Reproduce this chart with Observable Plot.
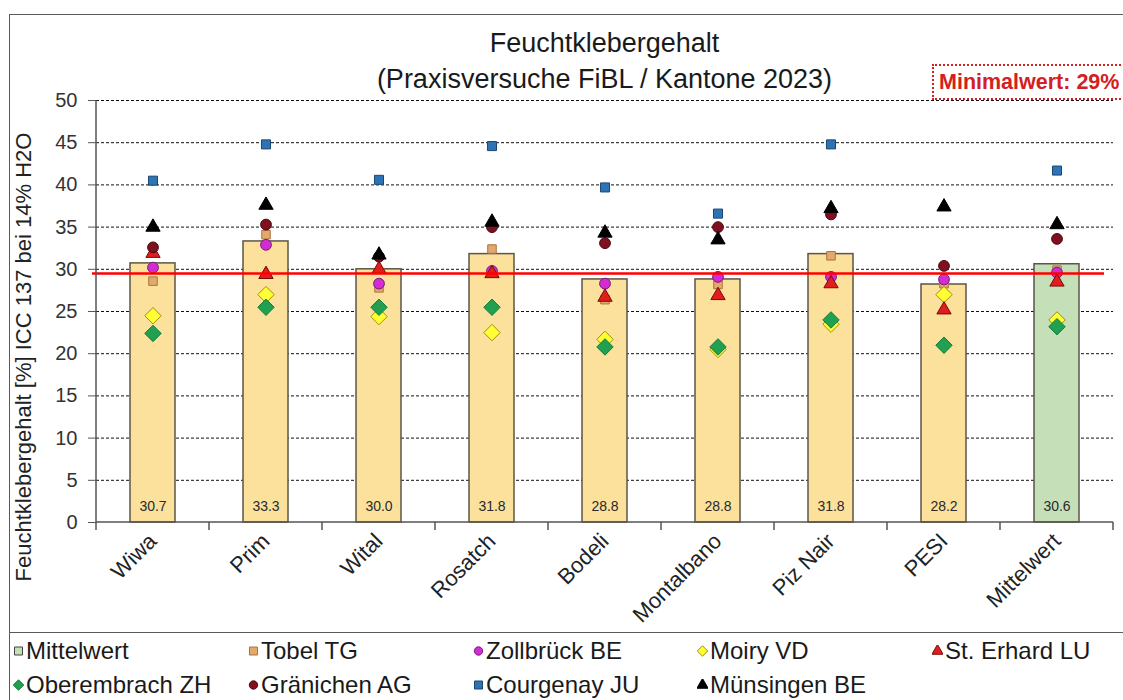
<!DOCTYPE html>
<html>
<head>
<meta charset="utf-8">
<script src="https://cdn.jsdelivr.net/npm/d3@7"></script>
<script src="https://cdn.jsdelivr.net/npm/@observablehq/plot@0.6"></script>
<style>
  body { margin: 0; background: #fff; font-family: "Liberation Sans", Arial, sans-serif; }
  #wrap { position: relative; width: 1123px; height: 700px; overflow: hidden; background: #fff; }
  #chart { position: absolute; left: 0; top: 0; }
  .frame-top { position: absolute; left: 9px; top: 14px; width: 1120px; height: 0; border-top: 1.5px solid #5a5a5a; }
  .frame-left { position: absolute; left: 9px; top: 14px; width: 0; height: 700px; border-left: 1.5px solid #5a5a5a; }
  .frame-sep { position: absolute; left: 9px; top: 632px; width: 1120px; height: 0; border-top: 1.5px solid #5a5a5a; }
  #title { position: absolute; left: 96px; width: 1017px; top: 26px; text-align: center; font-size: 27px; line-height: 35.5px; color: #1a1a1a; }
  #ytitle { position: absolute; left: -226px; top: 344px; width: 500px; height: 26px; line-height: 26px; text-align: center;
            transform: rotate(-90deg); transform-origin: 250px 13px; font-size: 22px; color: #222; white-space: nowrap; }
  #minbox { position: absolute; left: 932px; top: 64px; width: 200px; height: 32px; border: 2.5px dotted #d42020; background: #fff;
            color: #d42020; font-weight: bold; font-size: 21.5px; line-height: 33px; padding-left: 5px; white-space: nowrap; }
  #legend { position: absolute; left: 0; top: 633px; width: 1123px; height: 67px; }
  .item { position: absolute; display: flex; align-items: center; font-size: 24px; color: #1a1a1a; white-space: nowrap; }
  .item svg { margin-right: 2px; }
</style>
</head>
<body>
<div id="wrap">
  <div id="chart"></div>
  <div class="frame-top"></div>
  <div class="frame-left"></div>
  <div class="frame-sep"></div>
  <div id="title"></div>
  <div id="ytitle"></div>
  <div id="minbox"></div>
  <div id="legend"></div>
</div>
<script>
// ---------- data ----------
const titleLines = ["Feuchtklebergehalt", "(Praxisversuche FiBL / Kantone 2023)"];
const yAxisTitle = "Feuchtklebergehalt [%] ICC 137 bei 14% H2O";
const minLabel = "Minimalwert: 29%";
const minValue = 29.5;

const categories = ["Wiwa", "Prim", "Wital", "Rosatch", "Bodeli", "Montalbano", "Piz Nair", "PESI", "Mittelwert"];
const meanValues = [30.7, 33.3, 30.0, 31.8, 28.8, 28.8, 31.8, 28.2, 30.6];

const seriesNames = ["Tobel TG", "Zollbrück BE", "Moiry VD", "St. Erhard LU", "Oberembrach ZH", "Gränichen AG", "Courgenay JU", "Münsingen BE"];
const tobel       = [28.6, 34.1, 27.8, 32.4, 26.4, 28.2, 31.6, 28.3, 29.9];
const zollbrueck  = [30.2, 32.9, 28.3, 29.8, 28.3, 29.1, 29.1, 28.8, 29.6];
const moiry       = [24.5, 27.0, 24.4, 22.5, 21.7, 20.5, 23.5, 27.0, 24.0];
const stErhard    = [31.9, 29.4, 30.0, 29.5, 26.7, 26.9, 28.3, 25.2, 28.5];
const oberembrach = [22.4, 25.5, 25.5, 25.5, 20.8, 20.8, 24.0, 21.0, 23.2];
const graenichen  = [32.6, 35.3, 31.5, 35.0, 33.1, 35.0, 36.5, 30.4, 33.6];
const courgenay   = [40.5, 44.8, 40.6, 44.6, 39.7, 36.6, 44.8, null, 41.7];
const muensingen  = [35.0, 37.6, 31.7, 35.6, 34.3, 33.5, 37.2, 37.4, 35.3];
const seriesValues = [tobel, zollbrueck, moiry, stErhard, oberembrach, graenichen, courgenay, muensingen];

const yTicks = [0, 5, 10, 15, 20, 25, 30, 35, 40, 45, 50];

// ---------- styles ----------
const barFill = "#fbe19c", meanFill = "#c5dfb8", barStroke = "#5c5647";
const seriesStyle = [
  {symbol: "square",   fill: "#e3a86c", stroke: "#a8743f", r: 4.8},
  {symbol: "circle",   fill: "#d22cd2", stroke: "#7a1a7a", r: 5.4},
  {symbol: "diamond2", fill: "#ffff33", stroke: "#9a8f10", r: 7.4},
  {symbol: "triangle", fill: "#e01e1e", stroke: "#7a0a0a", r: 5.3},
  {symbol: "diamond2", fill: "#20a050", stroke: "#177a3a", r: 7.4},
  {symbol: "circle",   fill: "#7e1020", stroke: "#4a0810", r: 5.4},
  {symbol: "square",   fill: "#2e74b5", stroke: "#1a4670", r: 5.1},
  {symbol: "triangle", fill: "#000000", stroke: "#000000", r: 5.3}
];
const font = '"Liberation Sans", Arial, sans-serif';

// ---------- tables ----------
const bars = categories.map((c, i) => ({category: c, value: meanValues[i], isMean: c === "Mittelwert"}));
const seriesData = seriesNames.map((name, s) =>
  categories.map((c, i) => ({category: c, value: seriesValues[s][i], series: name})).filter(d => d.value != null)
);

// ---------- titles ----------
document.getElementById("title").innerHTML = titleLines.map(t => `<div>${t}</div>`).join("");
document.getElementById("ytitle").textContent = yAxisTitle;
document.getElementById("minbox").textContent = minLabel;

// ---------- plot ----------
const dots = seriesData.map((data, s) => Plot.dot(data, {
  x: "category", y: "value",
  symbol: () => seriesStyle[s].symbol,
  r: seriesStyle[s].r,
  fill: seriesStyle[s].fill, stroke: seriesStyle[s].stroke, strokeWidth: 1,
  title: d => `${d.series}: ${d.value}`
}));

const plot = Plot.plot({
  width: 1123, height: 632,
  marginLeft: 96, marginRight: 10, marginTop: 100, marginBottom: 110,
  style: {fontFamily: font, background: "transparent", color: "#333"},
  x: {domain: categories, paddingInner: 0.6, paddingOuter: 0.3, label: null},
  y: {domain: [0, 50], label: null},
  symbol: {type: "identity"},
  marks: [
    Plot.ruleY(yTicks.filter(d => d > 0), {stroke: "#111", strokeWidth: 1, strokeDasharray: "3,2"}),
    Plot.barY(bars.filter(d => !d.isMean), {x: "category", y: "value", fill: barFill, stroke: barStroke, strokeWidth: 1.5}),
    Plot.barY(bars.filter(d => d.isMean), {x: "category", y: "value", fill: meanFill, stroke: barStroke, strokeWidth: 1.5}),
    Plot.text(bars, {x: "category", y: 0, text: d => d.value.toFixed(1), dy: -16, fontSize: 14, fill: "#2a2a2a"}),
    ...dots,
    Plot.ruleY([minValue], {stroke: "#ff0000", strokeWidth: 2.5, insetLeft: -4, insetRight: 9}),
    Plot.axisY({ticks: yTicks, tickSize: 8, tickPadding: 11, fontSize: 20, stroke: "#555", fill: "#333", label: null}),
    Plot.axisX({tickSize: 0, tickRotate: -45, tickPadding: 15, fontSize: 22, fill: "#222", label: null})
  ]
});
document.getElementById("chart").appendChild(plot);

// axis lines and category-boundary ticks using the plot's own scales
const xs = plot.scale("x"), ys = plot.scale("y");
const svg = d3.select(plot);
const y0 = ys.apply(0), y50 = ys.apply(50);
const gap = (xs.step - xs.bandwidth) / 2;
const bounds = categories.map(c => xs.apply(c) - gap).concat([xs.apply(categories[categories.length - 1]) + xs.bandwidth + gap]);
const g = svg.append("g").attr("stroke", "#555").attr("stroke-width", 1.5);
g.append("line").attr("x1", bounds[0]).attr("x2", bounds[0]).attr("y1", y50).attr("y2", y0);
g.append("line").attr("x1", bounds[0]).attr("x2", bounds[bounds.length - 1]).attr("y1", y0).attr("y2", y0);
bounds.forEach(b => g.append("line").attr("x1", b).attr("x2", b).attr("y1", y0).attr("y2", y0 + 8));

// ---------- legend ----------
const legendItems = [
  {name: "Mittelwert", symbol: "square", fill: meanFill, stroke: "#444"},
  ...seriesNames.map((n, s) => ({name: n, ...seriesStyle[s]}))
];
const colX = [13, 248, 473, 697, 932];
const rowY = [18, 52];
const symMap = {square: d3.symbolSquare, circle: d3.symbolCircle, diamond2: d3.symbolDiamond2, triangle: d3.symbolTriangle};
const symSize = {square: 64, circle: 55, diamond2: 70, triangle: 55};
const legend = d3.select("#legend");
legendItems.forEach((it, i) => {
  const col = i % 5, row = Math.floor(i / 5);
  const div = legend.append("div").attr("class", "item")
    .style("left", colX[col] + "px").style("top", (rowY[row] - 14) + "px").style("height", "28px");
  const s = div.append("svg").attr("width", 11).attr("height", 12);
  s.append("path").attr("transform", "translate(5.5,6)")
    .attr("d", d3.symbol(symMap[it.symbol], symSize[it.symbol])())
    .attr("fill", it.fill).attr("stroke", it.stroke).attr("stroke-width", 1);
  div.append("span").text(it.name);
});
</script>
</body>
</html>
